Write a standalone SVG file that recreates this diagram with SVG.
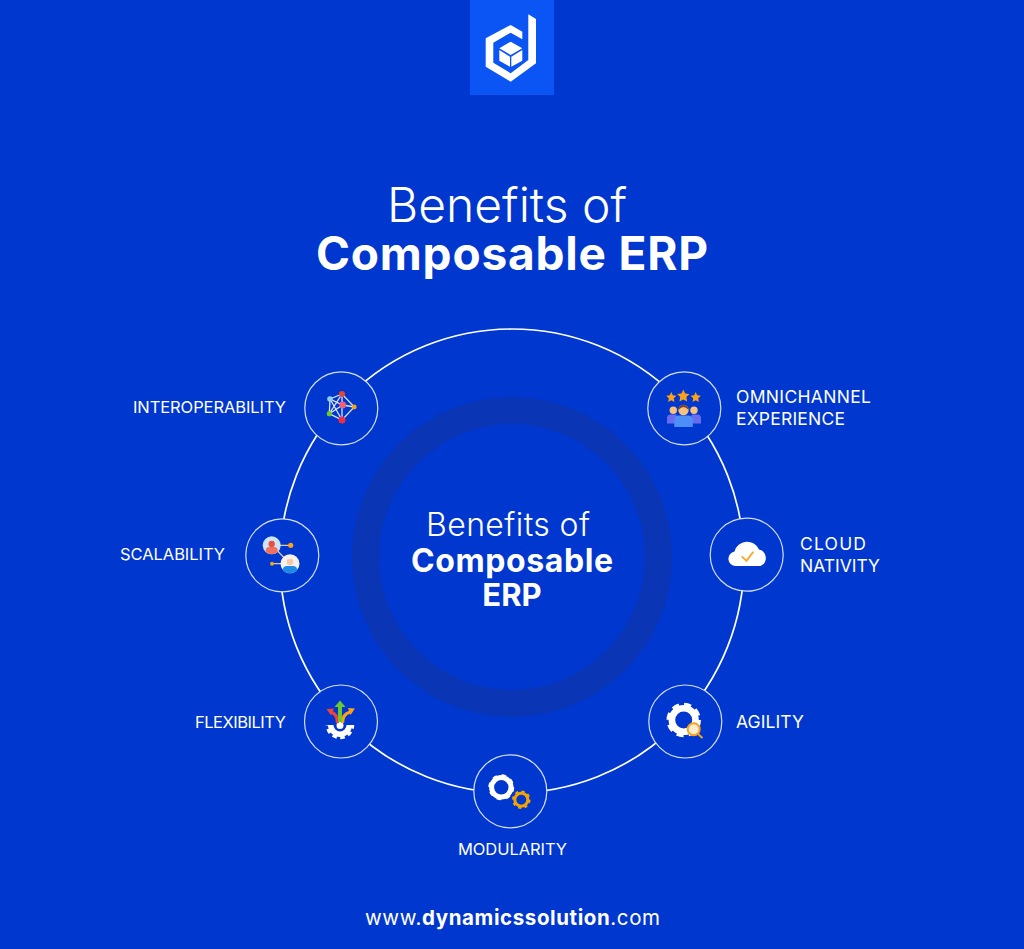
<svg xmlns="http://www.w3.org/2000/svg" width="1024" height="949" viewBox="0 0 1024 949">
<style>
text{font-family:"Inter","Liberation Sans",sans-serif;fill:#fff}
.lb{font-size:16.5px;font-weight:400}
.lr{font-size:17.5px;font-weight:400}
.nd{fill:#0037cf;stroke:#d5def8;stroke-width:1.2}
.w{fill:#fff}
</style>
<defs><clipPath id="lowerHalf"><rect x="320" y="725" width="40" height="24"/></clipPath></defs>
<rect width="1024" height="949" fill="#0037cf"/>
<g id="logo">
<rect x="470" y="0" width="84" height="95" fill="#0a55f4"/>
<path class="w" d="M528.3 14.300L536 19V63.300L510.700 81.700L485.700 66.700V38.300L510.700 25L522.300 31.700V39.300L510.700 32.700L493.300 42.700V62.700L510.700 73.300L528.300 60Z"/>
<path class="w" d="M510.700 41.700L499.300 48.300L510.700 55L522.300 48.300Z M499.300 50L510 56.700V66.700L499.300 60.700Z M511.300 56.700L522.300 50V60.700L511.300 66.700Z"/>
</g>
<g id="title">
<text x="507" y="222" text-anchor="middle" font-size="48" font-weight="300">Benefits of</text>
<text x="512" y="270" text-anchor="middle" font-size="46" font-weight="700" textLength="392" lengthAdjust="spacing">Composable ERP</text>
</g>
<g id="connectors">
<circle cx="512" cy="561" r="232" fill="none" stroke="#fff" stroke-width="1.700"/>
</g>
<g id="center">
<circle cx="512" cy="557" r="146.500" fill="none" stroke="#0a35b4" stroke-width="27"/>
<text x="508" y="536" text-anchor="middle" font-size="32" font-weight="300" textLength="164" lengthAdjust="spacing">Benefits of</text>
<text x="512" y="572" text-anchor="middle" font-size="32" font-weight="700" textLength="202" lengthAdjust="spacing">Composable</text>
<text x="512" y="606" text-anchor="middle" font-size="31" font-weight="700">ERP</text>
</g>
<g id="interoperability">
<circle class="nd" cx="341.300" cy="408.300" r="36.500"/>
<path d="M342 394L330 399L342.700 405L354.300 407L342 420L329.300 413.700L342 394L354.300 407M330 399L342 420M342 394V420M329.300 413.700L342.700 405M330 399L329.300 413.700" stroke="#dfe6fb" stroke-width="1.300" fill="none"/>
<circle cx="342" cy="394" r="3" fill="#e8452e"/><circle cx="330" cy="399" r="2.800" fill="#8fd0e8"/><circle cx="342.700" cy="405" r="3.400" fill="#f0607a"/><circle cx="354.300" cy="407" r="2.400" fill="#f6a609"/><circle cx="329.300" cy="413.700" r="2.600" fill="#6cc72c"/><circle cx="342" cy="420" r="3.500" fill="#ee2c45"/>
<text class="lb" x="286" y="413" text-anchor="end" textLength="153" lengthAdjust="spacing">INTEROPERABILITY</text>
</g>
<g id="omnichannel">
<circle class="nd" cx="684.300" cy="408.300" r="36.500"/>
<g fill="#f9a11b"><path d="M671.300 392l1.500 3.300 3.600.5-2.600 2.500.6 3.600-3.100-1.700-3.100 1.700.6-3.600-2.600-2.500 3.600-.5z"/><path d="M695.700 392l1.500 3.300 3.600.5-2.600 2.500.6 3.600-3.100-1.700-3.100 1.700.6-3.600-2.600-2.500 3.600-.5z"/><path d="M683.300 389.500l1.900 4 4.300.6-3.100 3 .7 4.300-3.800-2-3.800 2 .7-4.300-3.100-3 4.300-.6z"/></g>
<path d="M667 423.500V418q0-3.500 3.500-3.500h6v9zM701 423.500V418q0-3.500-3.500-3.500h-6v9z" fill="#6a6cf0"/>
<circle cx="673.300" cy="410.300" r="3.700" fill="#f8c27a"/><circle cx="694" cy="410.300" r="3.700" fill="#f8c27a"/>
<path d="M674.300 427V420q0-4.500 4.500-4.500h9.500q4.500 0 4.500 4.500v7z" fill="#4e8ff7"/>
<circle cx="683.500" cy="410" r="5.200" fill="#f8c27a"/><path d="M678.300 410a5.200 5.200 0 0 1 10.400 0q-3-3-5.200-3t-5.200 3z" fill="#7a3f2c"/>
<text class="lr" x="736" y="403" textLength="135" lengthAdjust="spacing">OMNICHANNEL</text><text class="lr" x="736" y="425" textLength="109" lengthAdjust="spacing">EXPERIENCE</text>
</g>
<g id="scalability">
<circle class="nd" cx="282.300" cy="555.300" r="36.500"/>
<path d="M272 545.300H290.700M272 545.300L290 563.700M272 563.700H290" stroke="#e7c79a" stroke-width="1.300" fill="none"/>
<circle cx="271.700" cy="545.300" r="9" fill="#cde5fa"/><path d="M265.700 552v-1.500q0-3.500 3.500-3.500h5q3.500 0 3.500 3.500v1.500q-3 2.200-6 2.200t-6-2.200z" fill="#f0705f"/><circle cx="271.700" cy="544" r="3.200" fill="#e9503f"/>
<circle cx="290" cy="563.700" r="9.500" fill="#f4f1ee"/><path d="M283 571v-1.500q0-3.500 4-3.500h6q4 0 4 3.500v1.500q-3.500 2.200-7 2.200t-7-2.200z" fill="#1f8ae6"/><circle cx="290" cy="562" r="3.300" fill="#f6c7ad"/>
<circle cx="290.700" cy="545.300" r="2.600" fill="#f9a11b"/><circle cx="272" cy="563.700" r="2" fill="#f9a11b"/>
<text class="lb" x="225" y="560" text-anchor="end" textLength="105" lengthAdjust="spacing">SCALABILITY</text>
</g>
<g id="cloud">
<circle class="nd" cx="746.700" cy="554.700" r="36.500"/>
<path class="w" d="M735.500 566a7.300 7.300 0 0 1-1-14.500a13 13 0 0 1 24.500-2a8.700 8.700 0 0 1 1.500 16.500z"/>
<path d="M741.700 556.300L746.500 560.800L753.300 551.800" stroke="#f9a825" stroke-width="1.800" fill="none"/>
<text class="lr" x="800" y="550" textLength="66" lengthAdjust="spacing">CLOUD</text><text class="lr" x="800" y="572" textLength="80" lengthAdjust="spacing">NATIVITY</text>
</g>
<g id="flexibility">
<circle class="nd" cx="341" cy="721.500" r="36.500"/>
<path d="M328 725h5.500a6.500 6.500 0 0 0 13 0h5.500a12 12 0 0 1-24 0z" class="w"/>
<circle cx="340" cy="725" r="12.500" fill="none" stroke="#fff" stroke-width="3.500" stroke-dasharray="4.500 3.400" stroke-dashoffset="1" clip-path="url(#lowerHalf)"/>
<circle cx="340" cy="725.500" r="3.500" fill="#fff"/>
<path d="M337.500 723q0-9-6.500-11" stroke="#ef4438" stroke-width="3.200" fill="none"/><path d="M326.500 709l7.500-.5-3 7z" fill="#ef4438"/>
<path d="M342.500 723q0-9 7.500-11" stroke="#f9a11b" stroke-width="3.200" fill="none"/><path d="M355 708.500l-7-.5 2.500 7z" fill="#f9a11b"/>
<path d="M340 722V705" stroke="#6cc72c" stroke-width="4" fill="none"/><path d="M340 700.500l5.500 6.500h-11z" fill="#6cc72c"/>
<text class="lb" x="286" y="728" text-anchor="end" textLength="91" lengthAdjust="spacing">FLEXIBILITY</text>
</g>
<g id="agility">
<circle class="nd" cx="685.300" cy="721.500" r="36.500"/>
<circle cx="683.700" cy="720" r="11.800" fill="none" stroke="#fff" stroke-width="6.600"/>
<circle cx="683.700" cy="720" r="15.500" fill="none" stroke="#fff" stroke-width="3.500" stroke-dasharray="7 5.170"/>
<path d="M698 734l4.500 4" stroke="#f9a11b" stroke-width="2" fill="none"/>
<circle cx="693.700" cy="729.300" r="6" fill="#fdeccb" stroke="#f9a11b" stroke-width="2"/>
<text class="lr" x="736" y="728" textLength="68" lengthAdjust="spacing">AGILITY</text>
</g>
<g id="modularity">
<circle class="nd" cx="510.300" cy="791.300" r="36.500"/>
<circle cx="501.300" cy="787.300" r="9.700" fill="none" stroke="#fff" stroke-width="5"/>
<circle cx="501.300" cy="787.300" r="11.700" fill="none" stroke="#fff" stroke-width="2.500" stroke-dasharray="4.400 4.800"/>
<circle cx="521.300" cy="799.700" r="6.500" fill="none" stroke="#f5a300" stroke-width="3"/>
<circle cx="521.300" cy="799.700" r="8.300" fill="none" stroke="#f5a300" stroke-width="2" stroke-dasharray="3.200 3.300"/>
<text class="lb" x="512.500" y="855" text-anchor="middle" textLength="109" lengthAdjust="spacing">MODULARITY</text>
</g>
<g id="footer">
<text x="512.500" y="925" text-anchor="middle" font-size="20.500" textLength="295" lengthAdjust="spacing">www.<tspan font-weight="700">dynamicssolution</tspan>.com</text>
</g>
</svg>
